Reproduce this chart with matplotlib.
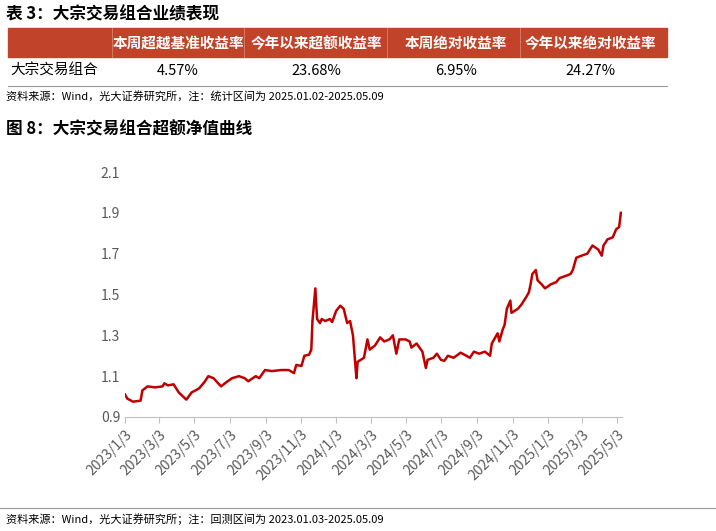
import matplotlib
matplotlib.use("Agg")
import matplotlib.pyplot as plt
import matplotlib.dates as mdates
import pandas as pd
from matplotlib.patches import Rectangle

plt.rcParams['font.family'] = ['Noto Sans CJK SC', 'DejaVu Sans']

table_title = "表 3：大宗交易组合业绩表现"
headers = ["本周超越基准收益率", "今年以来超额收益率", "本周绝对收益率", "今年以来绝对收益率"]
row_name = "大宗交易组合"
row_values = ["4.57%", "23.68%", "6.95%", "24.27%"]
table_source = "资料来源：Wind，光大证券研究所，注：统计区间为 2025.01.02-2025.05.09"
chart_title = "图 8：大宗交易组合超额净值曲线"
chart_source = "资料来源：Wind，光大证券研究所；注：回测区间为 2023.01.03-2025.05.09"

dates = ["2023-01-03","2023-01-07","2023-01-17","2023-01-30","2023-02-02","2023-02-11","2023-02-24",
"2023-03-09","2023-03-12","2023-03-18","2023-03-28","2023-04-06","2023-04-19","2023-04-28","2023-05-11",
"2023-05-20","2023-05-27","2023-06-05","2023-06-18","2023-06-27","2023-07-07","2023-07-19","2023-07-29",
"2023-08-04","2023-08-17","2023-08-23","2023-09-02","2023-09-14","2023-09-30","2023-10-13","2023-10-22",
"2023-10-26","2023-11-04","2023-11-09","2023-11-17","2023-11-21","2023-11-23","2023-11-28","2023-12-01",
"2023-12-06","2023-12-09","2023-12-15","2023-12-23","2023-12-27","2024-01-03","2024-01-10","2024-01-16",
"2024-01-22","2024-01-27","2024-02-01","2024-02-07","2024-02-09","2024-02-20","2024-02-26","2024-03-01",
"2024-03-10","2024-03-19","2024-03-26","2024-04-04","2024-04-10","2024-04-16","2024-04-21","2024-05-02",
"2024-05-09","2024-05-12","2024-05-21","2024-05-31","2024-06-06","2024-06-09","2024-06-19","2024-06-25",
"2024-07-02","2024-07-08","2024-07-14","2024-07-24","2024-08-05","2024-08-15","2024-08-21","2024-08-28",
"2024-09-06","2024-09-16","2024-09-25","2024-09-28","2024-10-08","2024-10-11","2024-10-17","2024-10-20",
"2024-10-24","2024-10-30","2024-11-01","2024-11-12","2024-11-18","2024-11-27","2024-12-01","2024-12-04",
"2024-12-07","2024-12-13","2024-12-16","2024-12-23","2024-12-29","2025-01-08","2025-01-17","2025-01-23",
"2025-02-11","2025-02-15","2025-02-21","2025-03-02","2025-03-12","2025-03-21","2025-03-31","2025-04-06",
"2025-04-09","2025-04-16","2025-04-25","2025-05-01","2025-05-06","2025-05-09"]
values = [1.01,0.99,0.975,0.98,1.03,1.05,1.045,1.05,1.065,1.055,1.06,1.02,0.985,1.02,1.04,1.07,1.10,1.09,1.05,
1.07,1.09,1.10,1.09,1.075,1.10,1.09,1.13,1.125,1.13,1.13,1.115,1.155,1.15,1.20,1.205,1.23,1.37,1.53,1.38,1.36,
1.38,1.37,1.38,1.365,1.42,1.445,1.43,1.36,1.37,1.30,1.09,1.17,1.19,1.28,1.23,1.25,1.29,1.27,1.28,1.30,1.21,
1.28,1.28,1.27,1.24,1.26,1.22,1.14,1.18,1.19,1.21,1.18,1.175,1.20,1.19,1.215,1.20,1.19,1.22,1.21,1.22,1.20,
1.26,1.31,1.27,1.33,1.35,1.43,1.47,1.41,1.43,1.45,1.49,1.51,1.55,1.60,1.62,1.57,1.55,1.53,1.55,1.56,1.58,
1.60,1.62,1.68,1.69,1.70,1.74,1.72,1.69,1.74,1.77,1.78,1.82,1.83,1.90]
tick_dates = ["2023-01-03","2023-03-03","2023-05-03","2023-07-03","2023-09-03","2023-11-03","2024-01-03",
"2024-03-03","2024-05-03","2024-07-03","2024-09-03","2024-11-03","2025-01-03","2025-03-03","2025-05-03"]
tick_labels = ["2023/1/3","2023/3/3","2023/5/3","2023/7/3","2023/9/3","2023/11/3","2024/1/3","2024/3/3",
"2024/5/3","2024/7/3","2024/9/3","2024/11/3","2025/1/3","2025/3/3","2025/5/3"]
yticks = [0.9, 1.1, 1.3, 1.5, 1.7, 1.9, 2.1]

W, H = 716, 531
fig = plt.figure(figsize=(W/100, H/100), dpi=100)
def fx(x): return x / W
def fy(y): return 1 - y / H

fig.text(fx(6), fy(14), table_title, fontsize=12, fontweight='bold', va='center')
fig.add_artist(Rectangle((fx(8), fy(57)), fx(659), 29/H, color='#C1432A', transform=fig.transFigure))
col_x = [178, 316, 456, 590]
for b in [112, 244, 387, 520]:
    fig.add_artist(plt.Line2D([fx(b), fx(b)], [fy(57), fy(28)], color='#D9826F', lw=0.6, transform=fig.transFigure))
for x, h in zip(col_x, headers):
    fig.text(fx(x), fy(43), h, fontsize=10.5, color='white', fontweight='bold', ha='center', va='center')
fig.text(fx(10), fy(71), row_name, fontsize=10.5, va='center')
for x, v in zip(col_x, row_values):
    fig.text(fx(x), fy(71), v, fontsize=10.5, ha='center', va='center')
fig.add_artist(plt.Line2D([fx(8), fx(667)], [fy(86), fy(86)], color='#999999', lw=0.8, transform=fig.transFigure))
fig.text(fx(6), fy(97), table_source, fontsize=8, va='center')
fig.text(fx(6), fy(129), chart_title, fontsize=12, fontweight='bold', va='center')
fig.add_artist(plt.Line2D([fx(0), fx(716)], [fy(508), fy(508)], color='#999999', lw=0.8, transform=fig.transFigure))
fig.text(fx(6), fy(519), chart_source, fontsize=8, va='center')

ax = fig.add_axes([fx(125), fy(417), 497/W, 245/H])
d = pd.to_datetime(dates)
ax.plot(d, values, color='#C00000', lw=1.8)
ax.set_ylim(0.9, 2.1)
ax.set_yticks(yticks)
ax.set_yticklabels([f"{v:.1f}" for v in yticks])
ax.set_xlim(pd.Timestamp("2023-01-03"), pd.Timestamp("2025-05-11"))
ax.set_xticks(pd.to_datetime(tick_dates))
ax.set_xticklabels(tick_labels, rotation=45, ha='right', rotation_mode='anchor')
for s in ['top', 'right', 'left']:
    ax.spines[s].set_visible(False)
ax.spines['bottom'].set_color('#BFBFBF')
ax.tick_params(axis='y', length=0, colors='#595959', labelsize=10)
ax.tick_params(axis='x', colors='#BFBFBF', labelcolor='#595959', labelsize=10, length=4)
fig.savefig("out.png", dpi=100)
